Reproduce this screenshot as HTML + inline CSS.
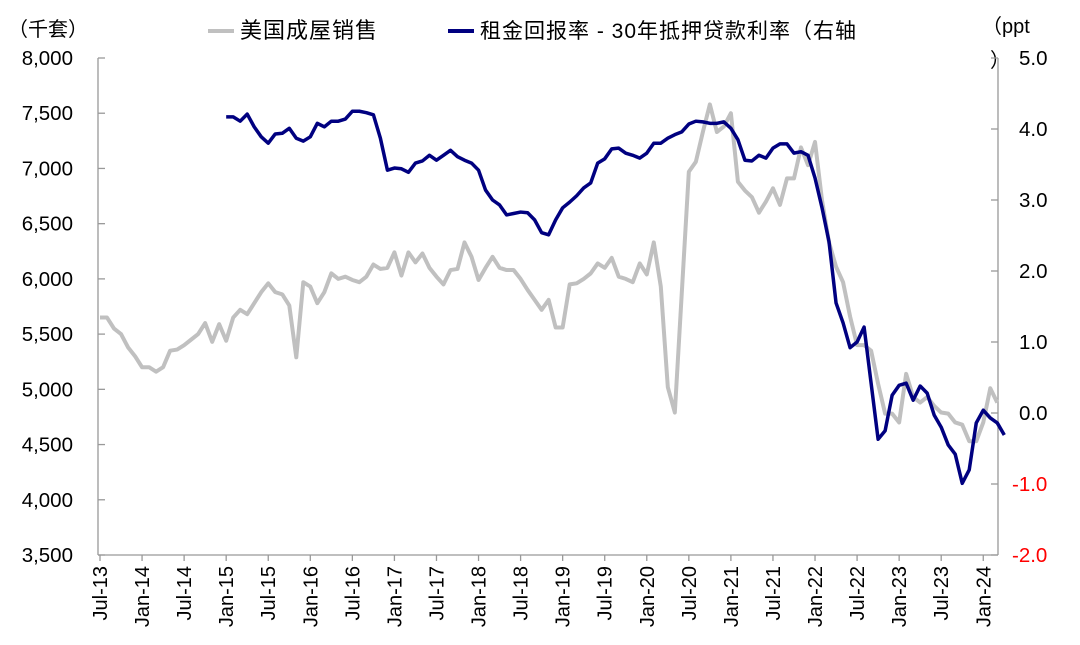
<!DOCTYPE html>
<html><head><meta charset="utf-8">
<style>
html,body{margin:0;padding:0;background:#fff;}
svg{display:block;font-family:"Liberation Sans","Noto Sans CJK SC",sans-serif;}
</style></head>
<body>
<svg id="chart" width="1080" height="645" viewBox="0 0 1080 645" xmlns="http://www.w3.org/2000/svg">
<text x="8" y="36" font-size="20" fill="#000">（千套）</text>
<g>
<line x1="208" y1="31" x2="234" y2="31" stroke="#c0c0c0" stroke-width="4"/>
<text x="240" y="38" font-size="22" letter-spacing="1">美国成屋销售</text>
<line x1="448" y1="31" x2="474" y2="31" stroke="#000080" stroke-width="4"/>
<text x="480" y="38" font-size="21" letter-spacing="1">租金回报率 - 30年抵押贷款利率（右轴</text>
</g>
<text x="982" y="33" font-size="20">（ppt</text>
<text x="990" y="67" font-size="20">）</text>
<g id="axes"></g>
<g id="series"></g>
</svg>
<script>
const leftTicks=[8000,7500,7000,6500,6000,5500,5000,4500,4000,3500];
const rightTicks=[5,4,3,2,1,0,-1,-2];
const xLabels=["Jul-13","Jan-14","Jul-14","Jan-15","Jul-15","Jan-16","Jul-16","Jan-17","Jul-17","Jan-18","Jul-18","Jan-19","Jul-19","Jan-20","Jul-20","Jan-21","Jul-21","Jan-22","Jul-22","Jan-23","Jul-23","Jan-24"];
const salesValues=[5650,5650,5550,5500,5380,5300,5200,5200,5160,5200,5350,5360,5400,5450,5500,5600,5430,5590,5440,5650,5720,5680,5780,5880,5960,5880,5860,5760,5290,5970,5930,5780,5880,6050,6000,6020,5990,5970,6020,6130,6090,6100,6240,6030,6240,6150,6230,6100,6020,5950,6080,6090,6330,6200,5990,6100,6200,6100,6080,6080,6000,5900,5810,5720,5810,5560,5560,5950,5960,6000,6050,6140,6100,6190,6020,6000,5970,6140,6040,6330,5930,5020,4790,5880,6970,7060,7330,7580,7330,7380,7500,6880,6800,6740,6600,6700,6820,6670,6910,6910,7190,7030,7240,6710,6330,6110,5970,5660,5400,5400,5350,5050,4780,4780,4700,5140,4930,4880,4930,4850,4790,4780,4700,4680,4530,4530,4700,5010,4880];
const spreadStart=18;
const spreadValues=[4.17,4.17,4.11,4.21,4.03,3.89,3.80,3.93,3.94,4.01,3.87,3.83,3.89,4.08,4.03,4.11,4.11,4.14,4.25,4.25,4.23,4.20,3.87,3.42,3.45,3.44,3.39,3.52,3.55,3.63,3.56,3.63,3.70,3.61,3.56,3.52,3.42,3.14,3.00,2.93,2.79,2.81,2.83,2.82,2.72,2.54,2.51,2.72,2.89,2.97,3.06,3.17,3.24,3.52,3.58,3.72,3.73,3.66,3.63,3.59,3.66,3.80,3.80,3.87,3.92,3.96,4.07,4.11,4.10,4.08,4.08,4.10,4.01,3.85,3.56,3.55,3.63,3.59,3.73,3.79,3.79,3.66,3.68,3.63,3.31,2.89,2.41,1.55,1.27,0.92,1.00,1.21,0.42,-0.37,-0.25,0.25,0.39,0.42,0.18,0.38,0.28,-0.03,-0.20,-0.45,-0.58,-0.99,-0.80,-0.14,0.04,-0.07,-0.14,-0.31];

const NS="http://www.w3.org/2000/svg";
const X0=100,DX=7.01,LY=v=>58+(8000-v)*(497/4500),RY=v=>58+(5-v)*71,XI=i=>X0+DX*i;
const axes=document.getElementById('axes'),series=document.getElementById('series');
function mk(tag,attrs,parent){const e=document.createElementNS(NS,tag);for(const k in attrs)e.setAttribute(k,attrs[k]);parent.appendChild(e);return e;}
const leftAxis=mk('line',{x1:98,y1:58,x2:98,y2:555,stroke:'#999','stroke-width':1.3},axes);


const rightAxis=mk('line',{x1:998,y1:58,x2:998,y2:555,stroke:'#999','stroke-width':1.3},axes);


const xAxis=mk('line',{x1:98,y1:555,x2:998,y2:555,stroke:'#999','stroke-width':1.3},axes);


leftTicks.forEach(v=>{const y=LY(v);
 const t=mk('line',{x1:98,y1:y,x2:105,y2:y,stroke:'#999','stroke-width':1.3},axes);
 
 
 const l=mk('text',{x:73,y:y+7,'font-size':20.5,'text-anchor':'end',fill:'#000'},axes);
 l.textContent=v.toLocaleString('en-US');
 
 });
rightTicks.forEach(v=>{const y=RY(v);
 const t=mk('line',{x1:991,y1:y,x2:998,y2:y,stroke:'#999','stroke-width':1.3},axes);
 
 
 const l=mk('text',{x:v<0?1012:1019,y:y+7,'font-size':20.5,fill:v<0?'#ff0000':'#000'},axes);
 l.textContent=v.toFixed(1);
 
 });
xLabels.forEach((s,k)=>{const x=XI(k*6);
 const t=mk('line',{x1:x,y1:555,x2:x,y2:561,stroke:'#999','stroke-width':1.3},axes);
 
 
 const l=mk('text',{x:0,y:0,'font-size':20,'text-anchor':'end',transform:`translate(${x+7},566) rotate(-90)`},axes);
 l.textContent=s;
 
 });
const gp=mk('polyline',{points:salesValues.map((v,i)=>XI(i)+','+LY(v)).join(' '),fill:'none',stroke:'#c0c0c0','stroke-width':4,'stroke-linejoin':'round'},series);


const np=mk('polyline',{points:spreadValues.map((v,i)=>XI(i+spreadStart)+','+RY(v)).join(' '),fill:'none',stroke:'#000080','stroke-width':3.5,'stroke-linejoin':'round'},series);


</script>
</body></html>
